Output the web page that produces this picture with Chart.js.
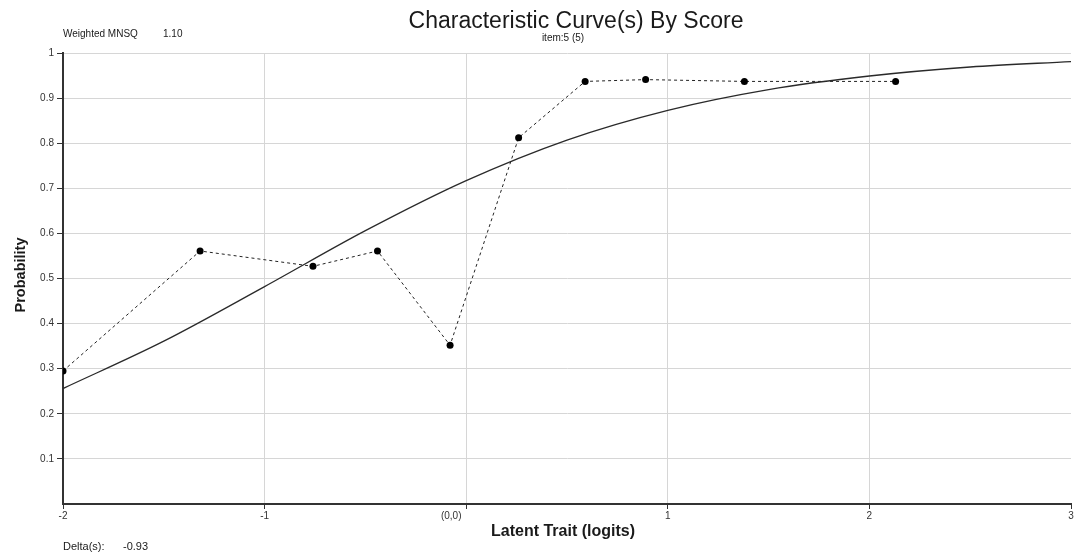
<!DOCTYPE html>
<html>
<head>
<meta charset="utf-8">
<script src="https://cdn.jsdelivr.net/npm/chart.js@4/dist/chart.umd.min.js"></script>
<style>
  html, body { margin: 0; padding: 0; background: #fff; }
  #wrap { width: 1075px; height: 556px; }
</style>
</head>
<body>
<div id="wrap"><canvas id="chart" width="1075" height="556"></canvas></div>
<script>
// observed proportions at each score group (latent trait, logits)
const obsX = [-2.0, -1.32, -0.76, -0.44, -0.08, 0.26, 0.59, 0.89, 1.38, 2.13];
const obsY = [0.295, 0.561, 0.527, 0.561, 0.352, 0.812, 0.937, 0.941, 0.937, 0.937];

// model curve, read every half logit
const curveX = [-2, -1.5, -1, -0.5, 0, 0.5, 1, 1.5, 2, 2.5, 3];
const curveY = [0.256, 0.361, 0.482, 0.606, 0.717, 0.807, 0.873, 0.919, 0.949, 0.969, 0.981];

const xTicks = [-2, -1, 0, 1, 2, 3];
const yTicks = [0.1, 0.2, 0.3, 0.4, 0.5, 0.6, 0.7, 0.8, 0.9, 1];

const FONT = '"Liberation Sans", Arial, sans-serif';

// title, item label, fit and delta text
const textPlugin = {
  id: 'texts',
  afterDraw(chart) {
    const c = chart.ctx;
    c.save();
    c.fillStyle = '#1a1a1a';
    c.textBaseline = 'alphabetic';

    c.textAlign = 'center';
    c.font = '23px ' + FONT;
    c.fillText('Characteristic Curve(s) By Score', 576, 28);
    c.font = '10px ' + FONT;
    c.fillText('item:5 (5)', 563, 41);

    c.textAlign = 'left';
    c.font = '10px ' + FONT;
    c.fillText('Weighted MNSQ', 63, 37);
    c.fillText('1.10', 163, 37);

    c.font = '11px ' + FONT;
    c.fillText('Delta(s):', 63, 550);
    c.fillText('-0.93', 123, 550);

    c.textAlign = 'center';
    c.font = 'bold 16px ' + FONT;
    c.fillText('Latent Trait (logits)', 563, 536);

    c.translate(25, 275);
    c.rotate(-Math.PI / 2);
    c.font = 'bold 14.5px ' + FONT;
    c.fillText('Probability', 0, 0);
    c.restore();
  }
};

const ctx = document.getElementById('chart').getContext('2d');

new Chart(ctx, {
  type: 'line',
  data: {
    datasets: [
      {
        label: 'model',
        data: curveX.map((x, i) => ({ x: x, y: curveY[i] })),
        borderColor: '#2a2a2a',
        borderWidth: 1.3,
        pointRadius: 0,
        cubicInterpolationMode: 'monotone',
        fill: false
      },
      {
        label: 'observed',
        data: obsX.map((x, i) => ({ x: x, y: obsY[i] })),
        borderColor: '#222',
        borderWidth: 1,
        borderDash: [3, 3],
        pointRadius: 3.5,
        pointBackgroundColor: '#000',
        pointBorderColor: '#000',
        pointBorderWidth: 0,
        tension: 0,
        fill: false
      }
    ]
  },
  options: {
    responsive: false,
    animation: false,
    devicePixelRatio: 1,
    layout: { padding: { top: 53, right: 1, left: 0, bottom: 0 } },
    plugins: {
      legend: { display: false },
      title: { display: false },
      tooltip: { enabled: false }
    },
    scales: {
      x: {
        type: 'linear',
        min: -2,
        max: 3,
        afterBuildTicks: (scale) => { scale.ticks = xTicks.map(v => ({ value: v })); },
        afterFit: (scale) => { scale.height = 52; },
        grid: {
          color: (c) => (c.tick && c.tick.value === 3) ? 'rgba(0,0,0,0)' : '#d6d6d6',
          tickColor: '#333',
          tickLength: 5,
          lineWidth: 1
        },
        border: { color: '#333', width: 2 },
        ticks: {
          font: { family: FONT, size: 10 },
          color: '#333',
          padding: 1,
          maxRotation: 0,
          autoSkip: false,
          callback: (v) => v === 0 ? '(0,0)\u2003\u2003\u2003' : String(v)
        }
      },
      y: {
        min: 0,
        max: 1,
        afterBuildTicks: (scale) => { scale.ticks = [0].concat(yTicks).map(v => ({ value: v })); },
        afterFit: (scale) => { scale.width = 63; },
        grid: {
          color: '#d6d6d6',
          tickColor: (c) => (c.tick && c.tick.value === 0) ? 'rgba(0,0,0,0)' : '#333',
          tickLength: 6,
          lineWidth: 1
        },
        border: { color: '#333', width: 2 },
        ticks: {
          font: { family: FONT, size: 10 },
          color: '#333',
          padding: 3,
          autoSkip: false,
          callback: (v) => v === 0 ? '' : String(Math.round(v * 10) / 10)
        }
      }
    }
  },
  plugins: [textPlugin]
});
</script>
</body>
</html>
